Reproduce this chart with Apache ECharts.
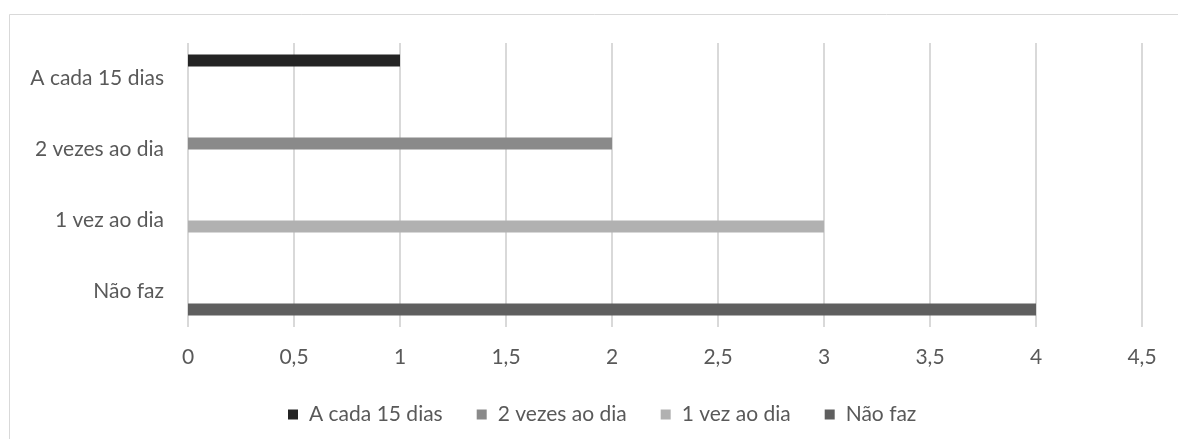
<!DOCTYPE html>
<html>
<head>
<meta charset="utf-8">
<style>
  html, body { margin: 0; padding: 0; background: #fff; }
  #chart { width: 1178px; height: 439px; }
</style>
<script src="https://cdn.jsdelivr.net/npm/echarts@6/dist/echarts.min.js"></script>
</head>
<body>
<div id="chart"></div>
<script>
// Frequency categories, bottom to top on the vertical axis
const categories = ['Não faz', '1 vez ao dia', '2 vezes ao dia', 'A cada 15 dias'];

// One series per frequency; each only has a value in its own category
const seriesNames = ['A cada 15 dias', '2 vezes ao dia', '1 vez ao dia', 'Não faz'];
const aCada15Dias = [null, null, null, 1];
const duasVezesAoDia = [null, null, 2, null];
const umaVezAoDia = [null, 3, null, null];
const naoFaz = [4, null, null, null];

const xMin = 0;
const xMax = 4.5;
const xStep = 0.5;

const colors = ['#242424', '#8a8a8a', '#b1b1b1', '#5f5f5f'];
const seriesData = [aCada15Dias, duasVezesAoDia, umaVezAoDia, naoFaz];

const FONT = 'Lato';
const FONT_SIZE = 21;
const TEXT = '#595959';

const chart = echarts.init(document.getElementById('chart'));
chart.setOption({
  animation: false,
  backgroundColor: '#ffffff',
  graphic: [{
    type: 'rect',
    shape: { x: 9.5, y: 14.5, width: 1180, height: 440 },
    style: { fill: 'none', stroke: '#d9d9d9', lineWidth: 1 },
    silent: true
  }],
  grid: { left: 188, right: 36, top: 43, bottom: 112, containLabel: false },
  legend: {
    data: seriesNames,
    top: 404,
    left: 288,
    padding: 0,
    icon: 'rect',
    itemWidth: 10,
    itemHeight: 10,
    itemGap: 34,
    textStyle: { color: TEXT, fontFamily: FONT, fontSize: FONT_SIZE, padding: [0, 0, 0, 6] }
  },
  xAxis: {
    type: 'value',
    min: xMin,
    max: xMax,
    interval: xStep,
    axisLine: { show: false },
    axisTick: { show: false },
    splitLine: { show: true, lineStyle: { color: '#d9d9d9', width: 2 } },
    axisLabel: {
      color: TEXT, fontFamily: FONT, fontSize: FONT_SIZE, margin: 20,
      formatter: v => String(v).replace('.', ',')
    }
  },
  yAxis: {
    type: 'category',
    data: categories,
    axisLine: { show: false },
    axisTick: { show: false },
    axisLabel: { color: TEXT, fontFamily: FONT, fontSize: FONT_SIZE, margin: 24 }
  },
  series: seriesNames.map((name, i) => ({
    name,
    type: 'bar',
    data: seriesData[i],
    barWidth: 12,
    barGap: '0%',
    itemStyle: { color: colors[i] }
  }))
});
</script>
</body>
</html>
